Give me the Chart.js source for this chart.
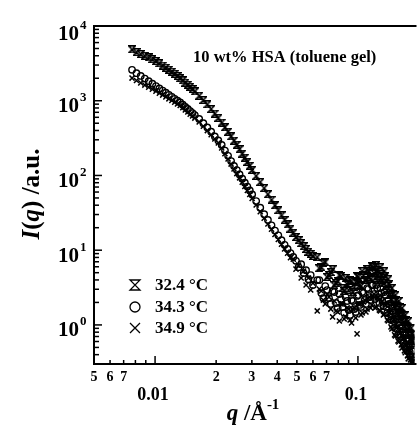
<!DOCTYPE html>
<html><head><meta charset="utf-8">
<style>html,body{margin:0;padding:0;background:#fff;overflow:hidden}canvas{display:block}</style>
<script src="https://cdn.jsdelivr.net/npm/chart.js@4.4.1/dist/chart.umd.min.js"></script>
</head><body>
<canvas id="c" width="420" height="429"></canvas>
<script>
// ---- data ----
const q = [0.0077,0.0081,0.0085,0.0089,0.0093,0.0097,0.0101,0.0105,0.0109,0.0113,0.0117,0.0121,0.0125,0.0129,0.0133,0.0137,0.0141,0.0145,0.0149,0.0153,0.0157,
0.0165,0.0173,0.0181,0.0189,0.0197,0.0205,0.0213,0.0221,0.0229,0.0237,0.0245,0.0253,0.0261,0.0269,0.0277,0.0285,0.0293,0.0301,
0.0315,0.0330,0.0345,0.0360,0.0375,0.0390,0.0405,0.0420,0.0435,0.0450,0.0465,0.0480,0.0495,0.0510,0.0525,0.0540,0.0555,0.0570,0.0585,0.0600,
0.063,0.0645,0.066,0.0675,0.069,0.0705,0.072,0.0735,0.075,0.0765,0.078,0.0795,0.081,0.0825,0.084,0.0855,0.087,0.0885,0.090,0.0915,
0.093,0.0945,0.096,0.0975,0.099,0.1005,0.102,0.1035,0.105,0.1065,0.108,0.1095,0.111,0.1125,0.114,0.1155,0.117,0.1185,0.120,0.1215,
0.123,0.1245,0.126,0.1275,0.129,0.1305,0.132,0.1335,0.135,0.1365,0.138,0.1395,0.141,0.1425,0.144,0.1455,0.147,0.1485,0.150,0.1515,
0.153,0.1545,0.156,0.1575,0.159,0.1605,0.162,0.1635,0.165,0.1665,0.168,0.1695,0.171,0.1725,0.174,0.1755,0.177,0.1785,0.180,0.1815,
0.183,0.1845,0.186,0.1875,0.189];

const I_324 = [4860,4477,4220,3992,3793,3597,3396,3162,2958,2773,2607,2449,2297,2143,2000,1871,1749,1641,1542,1436,1334,
1166,1021,895,775,673,590,511,442,384,334,293,258,225,196,173,152,135,119,
98.8,81.6,67.7,56.1,47.3,39.9,34.3,29.3,25.4,22.1,19.4,17.1,15.0,13.6,12.4,11.3,10.4,9.55,8.95,8.39,
8.07,5.75,5.93,6.71,6.92,4.37,4.64,5.09,5.58,3.41,3.63,3.86,4.64,4.5,3.11,2.84,4.24,3.52,2.93,3.98,
3.86,2.75,3.21,3.74,4.5,4.37,3.42,3.31,5.25,4.64,3.98,3.98,5.58,5.25,4.37,4.1,6.12,5.93,4.94,4.23,
6.31,5.41,4.5,3.98,5.93,4.79,3.98,3.63,5.25,4.5,3.31,2.93,4.1,3.52,2.51,2.22,3.11,2.59,2.03,1.79,
2.51,2.15,1.58,1.45,2.09,1.74,1.32,1.2,1.69,1.36,1.1,0.97,1.36,1.166,0.885,0.782,1.13,0.912,0.736,0.651,
0.912,0.759,0.612,0.575,0.736];

const I_343 = [2588,2339,2148,1977,1825,1690,1571,1463,1368,1279,1199,1128,1060,1003,949,885,826,775,726,684,643,
571,500,438,385,333,294,256,215,183,156,134,118,103,90.3,80,70.9,63.1,55.8,
45.4,37,30.3,25.4,21.5,18.3,15.8,13.6,11.8,10.4,9.15,8.11,7.2,5.93,6.5,4.94,5.41,4.1,4.64,3.42,
3.98,3.98,2.67,2.29,3.31,2.93,2.29,1.91,2.84,2.75,1.96,1.69,2.59,2.22,1.74,1.45,2.36,2.09,1.58,1.36,
2.15,2.09,1.63,1.49,2.44,2.51,1.85,1.74,2.75,2.67,2.15,1.91,3.11,3.02,2.36,2.15,3.42,3.41,2.59,2.22,
3.42,3.11,2.36,1.97,3.11,2.67,2.09,1.79,2.75,2.51,1.74,1.45,2.15,1.91,1.4,1.166,1.74,1.54,1.13,0.912,
1.4,1.24,0.885,0.736,1.13,1.0,0.736,0.631,0.912,0.807,0.593,0.509,0.759,0.651,0.509,0.45,0.631,0.541,0.437,0.386,
0.525,0.45,0.374,0.341,0.331];

const I_349 = [2009,1866,1734,1620,1518,1423,1343,1262,1191,1125,1060,1006,953,906,863,807,754,707,662,624,586,
521,456,399,351,308,273,233,196,166,142,122,106,92.9,81.1,71.3,62.9,55.8,49.3,
40.2,32.8,26.8,22.4,19.1,16.2,13.9,12.0,10.4,9.1,7.94,7.59,5.58,6.31,4.24,5.25,3.42,4.24,2.93,3.63,
1.54,3.02,2.84,2.15,1.91,2.59,2.36,1.63,1.28,2.09,1.54,1.49,1.13,1.91,1.91,1.2,1.28,1.69,1.63,1.166,
1.06,1.63,1.69,1.24,0.759,1.91,1.91,1.36,1.45,2.03,2.15,1.49,1.63,2.29,2.36,1.69,1.85,2.44,2.59,1.69,
1.74,2.29,2.36,1.58,1.54,2.03,2.09,1.36,1.4,1.85,1.85,1.166,1.13,1.45,1.45,0.94,0.885,1.13,1.17,0.736,
0.713,0.912,0.94,0.612,0.593,0.759,0.782,0.541,0.493,0.651,0.65,0.45,0.424,0.525,0.541,0.386,0.352,0.437,0.464,0.341,
0.321,0.363,0.386,0.321,0.331];

const seriesLabels = ['32.4 °C', '34.3 °C', '34.9 °C'];
const annotationText = '10 wt% HSA (toluene gel)';
const xMinorLabelValues = [0.005,0.006,0.007,0.02,0.03,0.04,0.05,0.06,0.07];
const xMinorLabelTexts  = ['5','6','7','2','3','4','5','6','7'];
const xMajorValues = [0.01, 0.1];
const xMajorTexts  = ['0.01', '0.1'];
const yMajorValues = [1, 10, 100, 1000, 10000];
const yMajorExps   = ['0', '1', '2', '3', '4'];

// ---- styles ----
const SERIF = '"Liberation Serif", "Times New Roman", serif';
function makeHourglass(size, lw) {
  const c = document.createElement('canvas');
  c.width = size; c.height = size;
  const g = c.getContext('2d');
  g.strokeStyle = '#000'; g.lineWidth = lw;
  const p = lw / 2, s = size - lw / 2;
  g.beginPath(); g.moveTo(p, p); g.lineTo(s, p); g.lineTo(p, s); g.lineTo(s, s); g.closePath(); g.stroke();
  return c;
}
const hourglassSmall = makeHourglass(8, 1.5);

function pts(ys) { return q.map((v, i) => ({ x: v, y: ys[i] })); }

const paperAxes = {
  id: 'paperAxes',
  afterDraw(chart) {
    const ctx = chart.ctx, a = chart.chartArea, xs = chart.scales.x, ys = chart.scales.y;
    ctx.save();
    ctx.strokeStyle = '#000'; ctx.fillStyle = '#000';
    ctx.lineWidth = 2;
    ctx.beginPath();
    ctx.moveTo(a.right + 2, a.top); ctx.lineTo(a.left, a.top); ctx.lineTo(a.left, a.bottom); ctx.lineTo(a.right + 2, a.bottom);
    ctx.stroke();
    // y ticks (inward)
    ctx.lineWidth = 1.5;
    for (let d = -1; d <= 4; d++) for (let k = 1; k <= 9; k++) {
      const v = k * Math.pow(10, d);
      if (v < ys.min * 0.999 || v > ys.max * 1.001) continue;
      const py = ys.getPixelForValue(v);
      const len = k === 1 ? 8 : 5;
      ctx.beginPath(); ctx.moveTo(a.left, py); ctx.lineTo(a.left + len, py); ctx.stroke();
    }
    // x ticks (inward)
    for (let d = -3; d <= -1; d++) for (let k = 1; k <= 9; k++) {
      const v = k * Math.pow(10, d);
      if (v < xs.min * 1.001 || v > xs.max) continue;
      const px = xs.getPixelForValue(v);
      const len = k === 1 ? 8 : 4;
      ctx.beginPath(); ctx.moveTo(px, a.bottom); ctx.lineTo(px, a.bottom - len); ctx.stroke();
    }
    // y labels 10^n
    yMajorValues.forEach((v, i) => {
      const py = ys.getPixelForValue(v) + (v === 10000 ? 9 : 6);
      ctx.font = 'bold 21px ' + SERIF; ctx.textAlign = 'right'; ctx.textBaseline = 'middle';
      ctx.fillText('10', 79, py);
      ctx.font = 'bold 13px ' + SERIF; ctx.textAlign = 'left';
      ctx.fillText(yMajorExps[i], 80, py - 9);
    });
    // x labels
    ctx.textAlign = 'center'; ctx.textBaseline = 'middle';
    ctx.font = 'bold 14px ' + SERIF;
    xMinorLabelValues.forEach((v, i) => ctx.fillText(xMinorLabelTexts[i], xs.getPixelForValue(v), 377));
    ctx.font = 'bold 18px ' + SERIF;
    xMajorValues.forEach((v, i) => ctx.fillText(xMajorTexts[i], xs.getPixelForValue(v) - 2, 395));
    // x title: q /Å^-1
    ctx.textAlign = 'left'; ctx.textBaseline = 'alphabetic';
    const xParts = [
      { t: 'q', f: 'italic bold 23px ' + SERIF, dy: 0 },
      { t: ' /Å', f: 'bold 23px ' + SERIF, dy: 0 },
      { t: '-1', f: 'bold 15px ' + SERIF, dy: -11 }
    ];
    let tw = 0; xParts.forEach(p => { ctx.font = p.f; p.w = ctx.measureText(p.t).width; tw += p.w; });
    let cx = 253 - tw / 2;
    xParts.forEach(p => { ctx.font = p.f; ctx.fillText(p.t, cx, 420 + p.dy); cx += p.w; });
    // y title: I(q) /a.u.
    ctx.save();
    ctx.translate(31, 194); ctx.rotate(-Math.PI / 2);
    const yParts = [
      { t: 'I', f: 'italic bold 25px ' + SERIF },
      { t: '(', f: 'bold 25px ' + SERIF },
      { t: 'q', f: 'italic bold 25px ' + SERIF },
      { t: ')', f: 'bold 25px ' + SERIF },
      { t: ' /a.u.', f: 'bold 25px ' + SERIF }
    ];
    tw = 0; yParts.forEach(p => { ctx.font = p.f; p.w = ctx.measureText(p.t).width; tw += p.w; });
    cx = -tw / 2;
    yParts.forEach(p => { ctx.font = p.f; ctx.fillText(p.t, cx, 8); cx += p.w; });
    ctx.restore();
    // annotation
    ctx.font = 'bold 16.5px ' + SERIF; ctx.textAlign = 'left'; ctx.textBaseline = 'alphabetic';
    ctx.fillText(annotationText, 193, 62);
    // legend
    const rows = [285, 307, 328], mx = 135;
    ctx.lineWidth = 1.3;
    ctx.beginPath();
    ctx.moveTo(mx - 5, rows[0] - 5); ctx.lineTo(mx + 5, rows[0] - 5); ctx.lineTo(mx - 5, rows[0] + 5); ctx.lineTo(mx + 5, rows[0] + 5); ctx.closePath();
    ctx.stroke();
    ctx.beginPath(); ctx.arc(mx, rows[1], 5, 0, Math.PI * 2); ctx.stroke();
    ctx.beginPath();
    ctx.moveTo(mx - 5, rows[2] - 5); ctx.lineTo(mx + 5, rows[2] + 5);
    ctx.moveTo(mx + 5, rows[2] - 5); ctx.lineTo(mx - 5, rows[2] + 5);
    ctx.stroke();
    ctx.font = 'bold 17px ' + SERIF; ctx.textBaseline = 'middle';
    seriesLabels.forEach((t, i) => ctx.fillText(t, 155, rows[i] + 1));
    ctx.restore();
  }
};

new Chart(document.getElementById('c'), {
  type: 'scatter',
  data: {
    datasets: [
      { label: seriesLabels[0], data: pts(I_324), pointStyle: hourglassSmall, pointRadius: 4, borderColor: '#000', backgroundColor: 'transparent', borderWidth: 1.5, showLine: false },
      { label: seriesLabels[1], data: pts(I_343), pointStyle: 'circle', pointRadius: 3.2, borderColor: '#000', backgroundColor: 'transparent', borderWidth: 1.4, showLine: false },
      { label: seriesLabels[2], data: pts(I_349), pointStyle: 'crossRot', pointRadius: 3.6, borderColor: '#000', backgroundColor: 'transparent', borderWidth: 1.5, showLine: false }
    ]
  },
  options: {
    responsive: false,
    animation: false,
    events: [],
    layout: { padding: { left: 94, top: 26, right: 0, bottom: 65 } },
    plugins: { legend: { display: false }, tooltip: { enabled: false } },
    scales: {
      x: { type: 'logarithmic', min: 0.005, max: 0.19, display: false },
      y: { type: 'logarithmic', min: 0.31, max: 10000, display: false }
    }
  },
  plugins: [paperAxes]
});
</script>
</body></html>
